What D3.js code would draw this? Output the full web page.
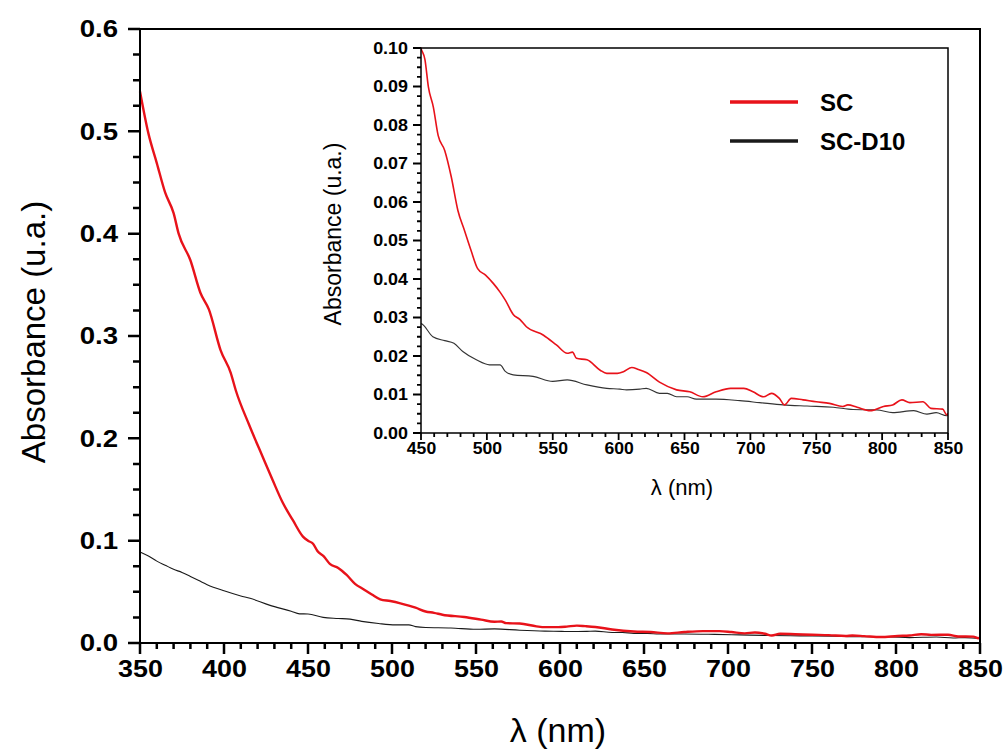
<!DOCTYPE html>
<html>
<head>
<meta charset="utf-8">
<script src="https://cdn.jsdelivr.net/npm/d3@7/dist/d3.min.js"></script>
<style>
  html, body { margin: 0; padding: 0; background: #fff; color: #000; }
  svg { display: block; }
  text { font-family: "Liberation Sans", Arial, sans-serif; fill: #000; }
</style>
</head>
<body>
<svg id="chart" width="1006" height="749"></svg>
<script>
// ---- data ----
const seriesNames = ["SC", "SC-D10"];
const scWavelength = [350,355,360,365,370,373,380,386,391,398,404,407,415,423,429,435,441,447,450,453,455.6,459.4,463,468,473,478,483,488,493,499,505,510,514,520,525,530,543,553,561,565,568,576,586,591,599,604,610,615,621,631,644,654,664,674,685,695,702,710,716,722,726,731,740,750,760,770,774,781,791,801,808,815,821,831,837,846,849,850];
const scAbsorbance = [0.539,0.498,0.469,0.440,0.420,0.400,0.374,0.342,0.326,0.286,0.264,0.247,0.213,0.182,0.159,0.137,0.120,0.104,0.0999,0.097,0.0899,0.0846,0.0773,0.0734,0.0665,0.0578,0.0526,0.0474,0.0427,0.0410,0.0388,0.0366,0.0345,0.0308,0.0295,0.0276,0.0254,0.0228,0.0207,0.0210,0.0194,0.0190,0.0163,0.0155,0.0155,0.0160,0.0170,0.0165,0.0157,0.0132,0.0112,0.0107,0.0094,0.0107,0.0116,0.0116,0.0107,0.0094,0.0103,0.0090,0.0073,0.0090,0.0086,0.0081,0.0077,0.0069,0.0073,0.0067,0.0058,0.0069,0.0073,0.0086,0.0079,0.0081,0.0064,0.0062,0.0047,0.0052];
const d10Wavelength = [350,355,360,365,370,375,380,385,390,400,410,415.5,427,440,445,450,459,468,475,482,492,502,510,514,520,535,550,561,576,591,601,606,616,621,631,637,644,652,659,674,692,707,725,743,763,778,796,808,824,834,841,849,850];
const d10Absorbance = [0.089,0.085,0.080,0.076,0.072,0.069,0.065,0.061,0.057,0.051,0.046,0.0437,0.037,0.031,0.0285,0.0284,0.0250,0.0240,0.0233,0.0211,0.0190,0.0177,0.0177,0.0160,0.0151,0.0147,0.0134,0.0138,0.0125,0.0116,0.0114,0.0112,0.0114,0.0116,0.0103,0.0103,0.0094,0.0094,0.0088,0.0088,0.0084,0.0079,0.0073,0.0070,0.0067,0.0061,0.0060,0.0053,0.0058,0.0049,0.0053,0.0045,0.0046];
const mainXTicks = [350,400,450,500,550,600,650,700,750,800,850];
const mainYTicks = [0.0,0.1,0.2,0.3,0.4,0.5,0.6];
const insetXTicks = [450,500,550,600,650,700,750,800,850];
const insetYTicks = [0.00,0.01,0.02,0.03,0.04,0.05,0.06,0.07,0.08,0.09,0.10];
const xTitle = "\u03bb (nm)";
const yTitle = "Absorbance (u.a.)";

// ---- build ----
const sc = scWavelength.map((w, i) => ({w, a: scAbsorbance[i]}));
const d10 = d10Wavelength.map((w, i) => ({w, a: d10Absorbance[i]}));
const colors = {"SC": "#e8121a", "SC-D10": "#1a1a1a"};

const svg = d3.select("#chart");

function steps(a, b, step) {
  const out = [];
  const n = Math.round((b - a) / step);
  for (let i = 0; i <= n; i++) out.push(+(a + i * step).toFixed(6));
  return out;
}
// tick marks as one path per set, positions from the scales
function xTickPath(scale, values, y0, len, width) {
  const d = values.map(v => `M${scale(v)},${y0}V${y0 + len}`).join("");
  svg.append("path").attr("d", d).attr("fill", "none")
    .attr("stroke", "#000").attr("stroke-width", width);
}
function yTickPath(scale, values, x0, len, width) {
  const d = values.map(v => `M${x0},${scale(v)}H${x0 - len}`).join("");
  svg.append("path").attr("d", d).attr("fill", "none")
    .attr("stroke", "#000").attr("stroke-width", width);
}
function styleAxis(g, size, stretch, anchorX) {
  g.select(".domain").remove();
  g.selectAll(".tick line").remove();
  g.selectAll(".tick text")
    .attr("font-size", size).attr("font-weight", "bold").attr("fill", "#000")
    .attr("transform", `translate(${anchorX},0) scale(${stretch},1) translate(${-anchorX},0)`);
}

// ===== Main plot =====
const M = {left: 140, right: 980, top: 29, bottom: 643};
const xMain = d3.scaleLinear().domain([350, 850]).range([M.left, M.right]);
const yMain = d3.scaleLinear().domain([0, 0.6]).range([M.bottom, M.top]);

svg.append("g").attr("transform", `translate(0,${M.bottom})`)
  .call(d3.axisBottom(xMain).tickValues(mainXTicks).tickSize(11).tickSizeOuter(0).tickPadding(6).tickFormat(d3.format("d")))
  .call(g => styleAxis(g, 24, 1.12, 0));
svg.append("g").attr("transform", `translate(${M.left},0)`)
  .call(d3.axisLeft(yMain).tickValues(mainYTicks).tickSize(12).tickSizeOuter(0).tickPadding(10).tickFormat(d3.format(".1f")))
  .call(g => styleAxis(g, 24, 1.15, -22));

const lineMain = d3.line().x(d => xMain(d.w)).y(d => yMain(d.a)).curve(d3.curveMonotoneX);
svg.append("path").datum(d10).attr("d", lineMain).attr("fill", "none")
  .attr("stroke", colors["SC-D10"]).attr("stroke-width", 1.1);
svg.append("path").datum(sc).attr("d", lineMain).attr("fill", "none")
  .attr("stroke", colors["SC"]).attr("stroke-width", 2.4);

svg.append("rect").attr("x", M.left).attr("y", M.top)
  .attr("width", M.right - M.left).attr("height", M.bottom - M.top)
  .attr("fill", "none").attr("stroke", "#000").attr("stroke-width", 2);

svg.append("text").attr("x", 558).attr("y", 742).attr("text-anchor", "middle")
  .attr("font-size", 34).text(xTitle);
svg.append("text").attr("transform", "translate(33,332) rotate(-90)")
  .attr("text-anchor", "middle").attr("dominant-baseline", "central")
  .attr("font-size", 33).text(yTitle);

// ===== Inset =====
const I = {left: 421, right: 948, top: 48, bottom: 433};
const xIn = d3.scaleLinear().domain([450, 850]).range([I.left, I.right]);
const yIn = d3.scaleLinear().domain([0, 0.10]).range([I.bottom, I.top]);

svg.append("rect").attr("x", I.left).attr("y", I.top)
  .attr("width", I.right - I.left).attr("height", I.bottom - I.top).attr("fill", "#fff");

svg.append("g").attr("transform", `translate(0,${I.bottom})`)
  .call(d3.axisBottom(xIn).tickValues(insetXTicks).tickSize(7).tickSizeOuter(0).tickPadding(3).tickFormat(d3.format("d")))
  .call(g => styleAxis(g, 16, 1.1, 0));
svg.append("g").attr("transform", `translate(${I.left},0)`)
  .call(d3.axisLeft(yIn).tickValues(insetYTicks).tickSize(8).tickSizeOuter(0).tickPadding(5).tickFormat(d3.format(".2f")))
  .call(g => styleAxis(g, 16, 1.12, -13));

svg.append("defs").append("clipPath").attr("id", "insetClip")
  .append("rect").attr("x", I.left).attr("y", I.top - 1)
  .attr("width", I.right - I.left).attr("height", I.bottom - I.top + 1);

const lineInset = d3.line().x(d => xIn(d.w)).y(d => yIn(d.a)).curve(d3.curveMonotoneX);
const insetLines = svg.append("g").attr("clip-path", "url(#insetClip)");
insetLines.append("path").datum(d10.filter(d => d.w >= 445)).attr("d", lineInset).attr("fill", "none")
  .attr("stroke", "#333").attr("stroke-width", 1.1);
insetLines.append("path").datum(sc.filter(d => d.w >= 447)).attr("d", lineInset).attr("fill", "none")
  .attr("stroke", colors["SC"]).attr("stroke-width", 1.6);

svg.append("rect").attr("x", I.left).attr("y", I.top)
  .attr("width", I.right - I.left).attr("height", I.bottom - I.top)
  .attr("fill", "none").attr("stroke", "#000").attr("stroke-width", 1.5);

svg.append("text").attr("x", 682).attr("y", 495).attr("text-anchor", "middle")
  .attr("font-size", 22).text(xTitle);
svg.append("text").attr("transform", "translate(333,234) rotate(-90)")
  .attr("text-anchor", "middle").attr("dominant-baseline", "central")
  .attr("font-size", 23).text(yTitle);

// legend
const legendY = [102, 141];
seriesNames.forEach((name, i) => {
  svg.append("line").attr("x1", 730).attr("x2", 798)
    .attr("y1", legendY[i]).attr("y2", legendY[i])
    .attr("stroke", colors[name]).attr("stroke-width", 3.5);
  svg.append("text").attr("x", 820).attr("y", legendY[i] + 9)
    .attr("font-size", 24).attr("font-weight", "bold").text(name);
});

// ===== tick marks (drawn last, from the scales) =====
xTickPath(xMain, steps(350, 850, 10).filter(v => !mainXTicks.includes(v)), M.bottom, 6, 2.5);
xTickPath(xMain, mainXTicks, M.bottom, 11, 2.5);
yTickPath(yMain, steps(0, 0.6, 0.025).filter(v => Math.abs(v * 10 - Math.round(v * 10)) > 1e-6), M.left, 7, 2.5);
yTickPath(yMain, mainYTicks, M.left, 12, 2.5);
xTickPath(xIn, steps(450, 850, 10).filter(v => !insetXTicks.includes(v)), I.bottom, 4, 1.8);
xTickPath(xIn, insetXTicks, I.bottom, 7, 1.8);
yTickPath(yIn, steps(0, 0.10, 0.0025).filter(v => Math.abs(v * 100 - Math.round(v * 100)) > 1e-6), I.left, 4, 1.8);
yTickPath(yIn, insetYTicks, I.left, 8, 1.8);
</script>
</body>
</html>
